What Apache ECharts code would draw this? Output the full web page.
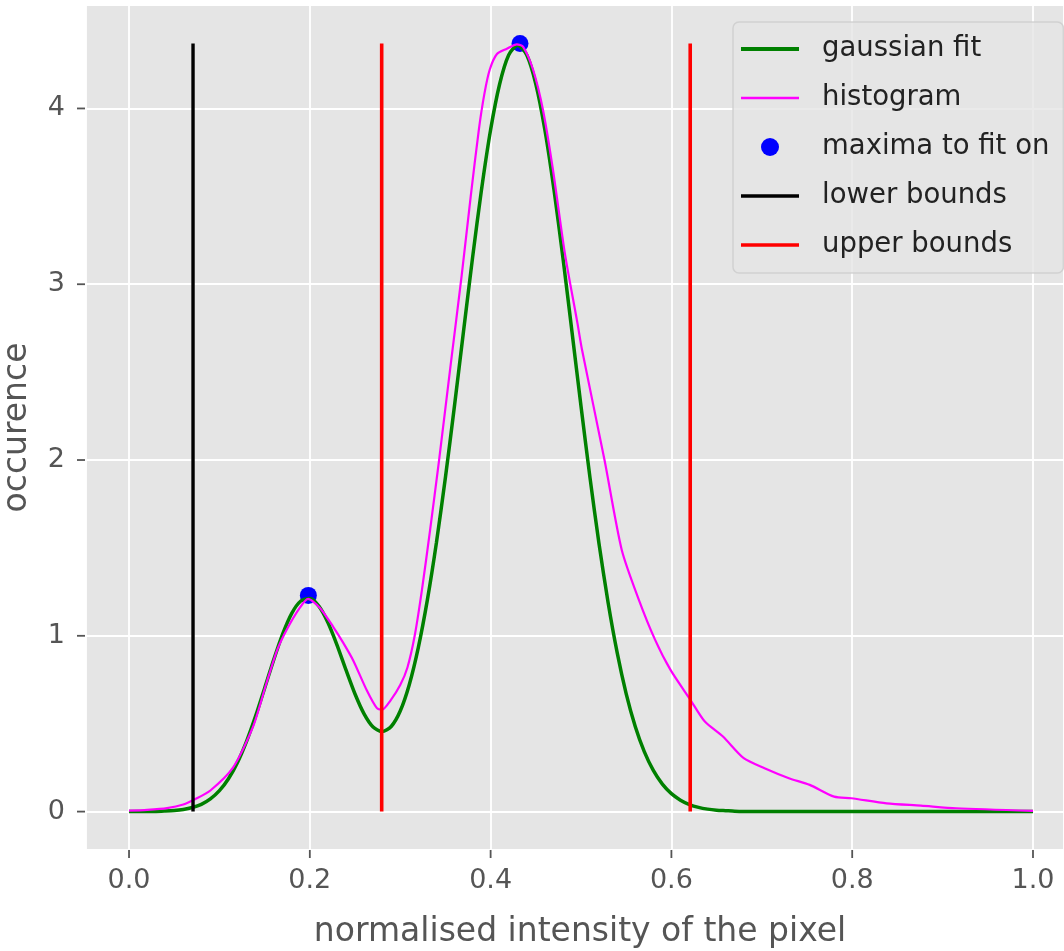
<!DOCTYPE html>
<html><head><meta charset="utf-8">
<script src="https://cdn.jsdelivr.net/npm/echarts@6/dist/echarts.min.js"></script>
<style>html,body{margin:0;padding:0;background:#fff;} #c{width:1064px;height:951px;}</style>
</head><body><div id="c"></div>
<script>
// gaussian fit curve
const gaussX = [0.00,0.01,0.02,0.03,0.04,0.05,0.06,0.07,0.08,0.09,0.10,0.11,0.12,0.13,0.14,0.15,0.16,0.17,0.18,0.19,
  0.20,0.21,0.22,0.23,0.24,0.25,0.26,0.27,0.28,0.29,0.30,0.31,0.32,0.33,0.34,0.35,0.36,0.37,0.38,0.39,
  0.40,0.41,0.42,0.43,0.44,0.45,0.46,0.47,0.48,0.49,0.50,0.51,0.52,0.53,0.54,0.55,0.56,0.57,0.58,0.59,
  0.60,0.61,0.62,0.63,0.64,0.65,0.66,0.67,0.68,0.69,0.70,0.75,0.80,0.85,0.90,0.95,1.00];
const gaussY = [0.000,0.000,0.001,0.001,0.003,0.006,0.012,0.023,0.041,0.072,0.119,0.187,0.280,0.400,0.543,0.702,0.863,1.011,1.128,1.198,
  1.212,1.169,1.076,0.949,0.806,0.669,0.556,0.481,0.455,0.484,0.572,0.722,0.933,1.203,1.528,1.901,2.307,2.731,3.150,3.541,
  3.879,4.139,4.304,4.360,4.304,4.139,3.879,3.541,3.150,2.730,2.306,1.897,1.521,1.188,0.904,0.670,0.484,0.341,0.234,0.156,
  0.102,0.065,0.040,0.024,0.014,0.008,0.005,0.002,0.001,0.001,0.000,0.000,0.000,0.000,0.000,0.000,0.000];
// histogram curve
const histX = [0.000,0.020,0.042,0.060,0.073,0.090,0.115,0.137,0.152,0.164,0.175,0.189,0.198,0.211,0.226,0.237,0.248,0.263,0.274,0.280,
  0.289,0.300,0.308,0.316,0.324,0.333,0.343,0.356,0.368,0.378,0.387,0.393,0.399,0.407,0.418,0.429,0.436,0.447,0.458,0.469,0.482,
  0.496,0.501,0.526,0.545,0.564,0.582,0.599,0.621,0.637,0.657,0.680,0.703,0.730,0.753,0.780,0.799,0.838,0.876,0.915,1.000];
const histY = [0.005,0.010,0.020,0.040,0.070,0.120,0.250,0.480,0.730,0.920,1.040,1.160,1.210,1.160,1.050,0.960,0.860,0.690,0.590,0.580,
  0.630,0.720,0.820,1.000,1.260,1.600,2.000,2.550,3.050,3.500,3.880,4.080,4.220,4.310,4.340,4.365,4.350,4.220,3.990,3.650,3.180,
  2.780,2.630,2.000,1.490,1.205,0.977,0.806,0.636,0.512,0.427,0.304,0.247,0.190,0.152,0.085,0.076,0.047,0.034,0.019,0.004];
// maxima
const maximaX = [0.1984, 0.4325];
const maximaY = [1.23, 4.37];
// bounds
const lowerBounds = [0.0708];
const upperBounds = [0.2795, 0.6208];
const boundTop = 4.37;
// ticks
const xTicks = [0, 0.2, 0.4, 0.6, 0.8, 1.0];
const yTicks = [0, 1, 2, 3, 4];

const FONT = 'DejaVu Sans';
const TICK = '#555555';
const zip = (a, b) => a.map((v, i) => [v, b[i]]);
const vline = (x) => [[x, 0], [x, boundTop]];

const series = [
  { name: 'maxima to fit on', type: 'scatter', data: zip(maximaX, maximaY), symbolSize: 17,
    itemStyle: { color: '#0000ff', opacity: 1 }, z: 1 },
  { name: 'gaussian fit', type: 'line', data: zip(gaussX, gaussY), smooth: 0.25, showSymbol: false, symbol: 'none',
    color: '#008000', lineStyle: { color: '#008000', width: 3.5 }, z: 2 },
  { name: 'histogram', type: 'line', data: zip(histX, histY), smooth: 0.25, showSymbol: false, symbol: 'none',
    color: '#ff00ff', lineStyle: { color: '#ff00ff', width: 2.2 }, z: 3 }
];
lowerBounds.forEach(x => series.push({ name: 'lower bounds', type: 'line', data: vline(x), symbol: 'none', showSymbol: false,
  color: '#000000', lineStyle: { color: '#000000', width: 3.4 }, z: 4 }));
upperBounds.forEach(x => series.push({ name: 'upper bounds', type: 'line', data: vline(x), symbol: 'none', showSymbol: false,
  color: '#ff0000', lineStyle: { color: '#ff0000', width: 3.6 }, z: 5 }));

const linePath = (t) => `path://M0,0 L0,0 M0,${9 - t / 2} L58,${9 - t / 2} L58,${9 + t / 2} L0,${9 + t / 2} Z M58,18 L58,18`;

const chart = echarts.init(document.getElementById('c'), null, { renderer: 'canvas' });
chart.setOption({
  backgroundColor: '#ffffff',
  animation: false,
  textStyle: { fontFamily: FONT },
  grid: { left: 86, top: 5, right: 0, bottom: 101, show: true, backgroundColor: '#e5e5e5', borderWidth: 0,
    containLabel: false, outerBoundsMode: 'none' },
  legend: {
    left: 733, top: 22, orient: 'vertical',
    padding: [12, 14, 13, 8],
    itemWidth: 58, itemHeight: 18, itemGap: 19,
    backgroundColor: 'rgba(229,229,229,0.8)', borderColor: 'rgba(204,204,204,0.8)', borderWidth: 1.5, borderRadius: 6,
    itemStyle: { borderWidth: 0 },
    textStyle: { fontFamily: FONT, fontSize: 27.5, color: '#222', lineHeight: 30, padding: [0, 0, 0, 18] },
    data: [
      { name: 'gaussian fit', icon: linePath(4) },
      { name: 'histogram', icon: linePath(2.5) },
      { name: 'maxima to fit on', icon: 'circle' },
      { name: 'lower bounds', icon: linePath(3.6) },
      { name: 'upper bounds', icon: linePath(3.6) }
    ]
  },
  xAxis: {
    type: 'value', min: -0.0476, max: 1.0343,
    name: 'normalised intensity of the pixel', nameLocation: 'middle', nameGap: 66,
    nameTextStyle: { fontFamily: FONT, fontSize: 33, color: '#555555', padding: [0, 0, 0, 10] },
    axisLine: { show: false, onZero: false },
    axisTick: { show: false },
    axisLabel: {
      customValues: xTicks, margin: 0, align: 'center',
      formatter: v => `{t| }\n{v|${v.toFixed(1)}}`,
      rich: {
        t: { width: 1.8, height: 8, lineHeight: 8, fontSize: 1, backgroundColor: TICK, align: 'center' },
        v: { fontFamily: FONT, fontSize: 27, color: TICK, padding: [15, 0, 0, 0], lineHeight: 31, align: 'center' }
      }
    },
    splitLine: { show: true, lineStyle: { color: '#ffffff', width: 1.8 } }
  },
  yAxis: {
    type: 'value', min: -0.2185, max: 4.5885,
    name: 'occurence', nameLocation: 'middle', nameGap: 52,
    nameTextStyle: { fontFamily: FONT, fontSize: 33, color: '#555555' },
    axisLine: { show: false, onZero: false },
    axisTick: { show: false },
    axisLabel: {
      customValues: yTicks, margin: 1,
      formatter: v => `{v|${v}}{t|}`,
      rich: {
        v: { fontFamily: FONT, fontSize: 27, color: TICK, padding: [0, 12, 0, 0], verticalAlign: 'middle' },
        t: { width: 8, height: 1.8, backgroundColor: TICK, verticalAlign: 'middle' }
      }
    },
    splitLine: { show: true, lineStyle: { color: '#ffffff', width: 1.8 } }
  },
  series: series
});
</script></body></html>
